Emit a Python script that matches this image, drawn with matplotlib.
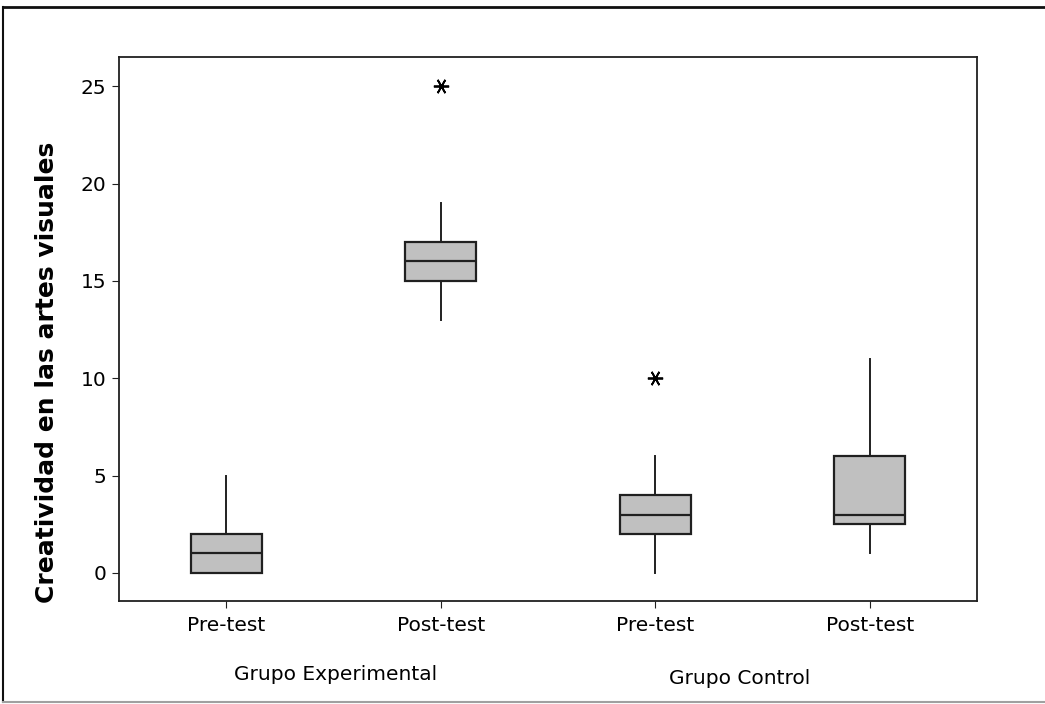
import matplotlib
matplotlib.use("Agg")
import matplotlib.pyplot as plt
from matplotlib.lines import Line2D

# ─── Data ─────────────────────────────────────────────────────────────────────

labels    = ["Pre-test", "Post-test", "Pre-test", "Post-test"]
groups    = ["Grupo Experimental", "Grupo Control"]
whislo    = [0, 13, 0, 1]
q1        = [0, 15, 2, 2.5]
med       = [1, 16, 3, 3]
q3        = [2, 17, 4, 6]
whishi    = [5, 19, 6, 11]
outliers  = [[], [25], [10], []]
yticks    = [0, 5, 10, 15, 20, 25]

W, H = 1045, 704

# ─── Plot ─────────────────────────────────────────────────────────────────────

stats = [
    dict(whislo=lo, q1=a, med=m, q3=b, whishi=hi, fliers=f, label=lab)
    for lo, a, m, b, hi, f, lab in zip(whislo, q1, med, q3, whishi, outliers, labels)
]

fig = plt.figure(figsize=(W / 100, H / 100), dpi=100)
ax = fig.add_axes([119 / W, 1 - 601 / H, (977 - 119) / W, (601 - 57) / H])

ax.bxp(
    stats, positions=[1, 2, 3, 4], widths=0.33, patch_artist=True,
    showcaps=False,
    boxprops=dict(facecolor="#c0c0c0", edgecolor="#202020", linewidth=1.6),
    medianprops=dict(color="#202020", linewidth=1.6),
    whiskerprops=dict(color="#202020", linewidth=1.4),
    flierprops=dict(marker=(6, 2, 90), markersize=11, markeredgecolor="black",
                    markeredgewidth=1.3, linestyle="none"),
)

ax.set_xlim(0.5, 4.5)
ax.set_ylim(-1.44, 26.5)
ax.set_yticks(yticks)
ax.tick_params(axis="both", labelsize=14.5, length=5, color="#202020")
ax.tick_params(axis="x", pad=6)
ax.tick_params(axis="y", pad=4)
ax.set_xticklabels(labels)
for s in ax.spines.values():
    s.set_linewidth(1.3)
    s.set_color("#202020")

ax.set_ylabel("Creatividad en las artes visuales", fontsize=18, fontweight="bold")
ax.yaxis.set_label_coords((59 - 119) / 858, 0.42)

# group labels under the tick labels
fig.text(336 / W, 1 - 674 / H, groups[0], ha="center", va="center", fontsize=14.5)
fig.text(740 / W, 1 - 679 / H, groups[1], ha="center", va="center", fontsize=14.5)

# window frame: top and left dark, bottom grey, no right edge
fig.add_artist(Line2D([3 / W, 1], [1 - 7 / H, 1 - 7 / H], transform=fig.transFigure,
                      color="#101010", linewidth=2))
fig.add_artist(Line2D([3 / W, 3 / W], [1 - 7 / H, 1 - 702 / H], transform=fig.transFigure,
                      color="#101010", linewidth=1.5))
fig.add_artist(Line2D([3 / W, 1], [1 - 702 / H, 1 - 702 / H], transform=fig.transFigure,
                      color="#a0a0a0", linewidth=1.5))

plt.savefig("out.png", dpi=100)
plt.close()
